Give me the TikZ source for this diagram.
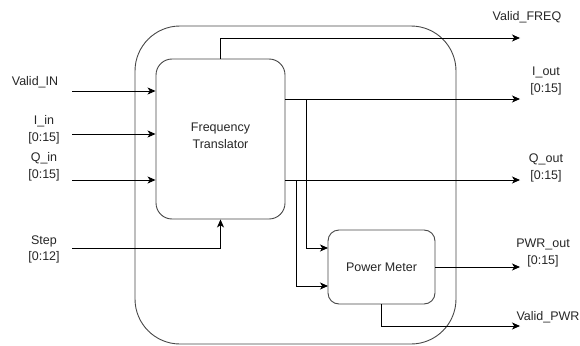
\documentclass[tikz,border=0pt]{standalone}
\usepackage{fontspec}
\setmainfont{Liberation Sans}
\usetikzlibrary{arrows.meta,calc}
\begin{document}
\begin{tikzpicture}[x=1pt,y=-1pt,
  box/.style={draw=black!72, line width=0.9pt, inner sep=0pt},
  wire/.style={draw=black, line width=0.9pt},
  sig/.style={wire,-{Stealth[length=8pt,width=7pt,inset=2.2pt]}},
  txt/.style={font=\fontsize{12.5}{16.5}\selectfont, text=black!85},
  lbl/.style={txt, align=center, inner sep=0pt}
]
\useasboundingbox (0,0) rectangle (580,345);
% boxes
\node[box, rounded corners=45pt, minimum width=321pt, minimum height=318pt] (sys) at (295.5,185) {};
\node[box, rounded corners=16pt, minimum width=129pt, minimum height=160pt] (ft) at (220.5,139) {};
\node[lbl] (ftt) at (220.5,136) {Frequency\\Translator};
\node[box, txt, rounded corners=11pt, minimum width=107pt, minimum height=74pt] (pm) at (381.5,267) {Power Meter};
% input coordinates
\coordinate (vinS) at (72,91);
\coordinate (iinS) at (72,134);
\coordinate (qinS) at (72,180);
\coordinate (stS) at (72,248);
% output coordinates
\coordinate (vfE) at (520,38);
\coordinate (ioE) at (520,99);
\coordinate (qoE) at (520,180);
\coordinate (pwE) at (520,267);
\coordinate (vpE) at (520,326);
\coordinate (ibr) at (306,99);
\coordinate (qbr) at (296,180);
\coordinate (pmI) at (328,248);
\coordinate (pmQ) at (328,286);
% inputs
\draw[sig] (vinS) -- (vinS -| ft.west);
\draw[sig] (iinS) -- (iinS -| ft.west);
\draw[sig] (qinS) -- (qinS -| ft.west);
\draw[sig] (stS) -| (ft.south);
% outputs
\draw[sig] (ft.north) |- (vfE);
\draw[sig] (ioE -| ft.east) -- (ioE);
\draw[sig] (qoE -| ft.east) -- (qoE);
\draw[sig] (ibr) |- (pmI);
\draw[sig] (qbr) |- (pmQ);
\draw[sig] (pm.east) -- (pwE);
\draw[sig] (pm.south) |- (vpE);
% labels
\node[lbl] (lvin) at (35,82) {Valid\_IN};
\node[lbl] (liin) at (44,130) {I\_in\\{}[0:15]};
\node[lbl] (lqin) at (44,167) {Q\_in\\{}[0:15]};
\node[lbl] (lst) at (44,249.5) {Step\\{}[0:12]};
\node[lbl] (lvf) at (527,17) {Valid\_FREQ};
\node[lbl] (lio) at (546,81) {I\_out\\{}[0:15]};
\node[lbl] (lqo) at (546,168) {Q\_out\\{}[0:15]};
\node[lbl] (lpw) at (543,253) {PWR\_out\\{}[0:15]};
\node[lbl] (lvp) at (548,317) {Valid\_PWR};
\end{tikzpicture}
\end{document}
